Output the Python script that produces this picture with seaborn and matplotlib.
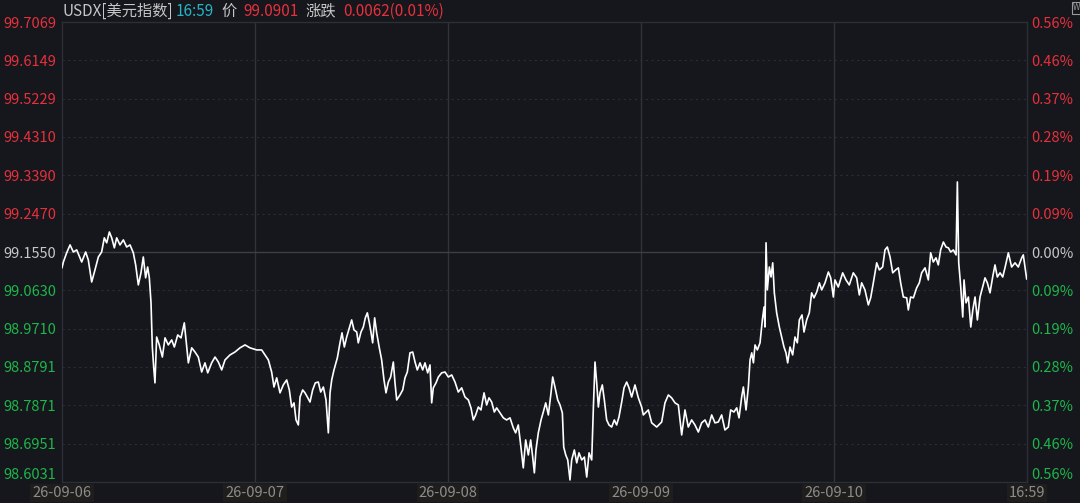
import pandas as pd
import seaborn as sns
import matplotlib.pyplot as plt

# hours since the start of 26-09-06
hours = [
    0.0, 0.17, 0.58, 1.0, 1.41, 1.83, 2.45, 2.94, 3.27, 3.69, 4.10, 4.52, 4.93, 5.26, 5.56, 5.89,
    6.18, 6.51, 6.80, 7.21, 7.63, 8.04, 8.46, 8.87, 9.16, 9.49, 9.82, 10.11, 10.40, 10.65, 10.86,
    11.07, 11.23, 11.40, 11.56, 11.77, 12.10, 12.48, 12.81, 13.22, 13.64, 13.97, 14.39, 14.80,
    15.21, 15.51, 15.71, 16.13, 16.54, 16.95, 17.37, 17.78, 18.12, 18.61, 19.03, 19.44, 19.86,
    20.27, 20.89, 21.51, 22.13, 22.76, 23.38,
    24.21, 24.83, 25.24, 25.66, 26.07, 26.36, 26.70, 27.11, 27.52, 27.94, 28.27, 28.56, 28.85,
    29.10, 29.39, 29.60, 29.93, 30.22, 30.51, 30.84, 31.17, 31.50, 31.87, 32.17, 32.50, 32.83,
    33.12, 33.33, 33.54, 33.82, 34.24, 34.57, 34.82, 35.11, 35.40, 35.73, 36.02, 36.31, 36.65,
    36.84, 37.18, 37.47, 37.72, 37.97, 38.22, 38.42, 38.63, 38.88, 39.13, 39.46, 39.75, 40.04,
    40.29, 40.58, 40.87, 41.20, 41.41, 41.62, 42.03, 42.37, 42.65, 42.94, 43.27, 43.61, 43.90,
    44.18, 44.52, 44.85, 45.14, 45.47, 45.76, 45.97, 46.17, 46.51, 46.80, 47.21, 47.63,
    48.04, 48.46, 48.87, 49.28, 49.70, 50.11, 50.53, 50.86, 51.15, 51.44, 51.77, 52.10, 52.48,
    52.81, 53.10, 53.43, 53.76, 54.05, 54.46, 54.88, 55.29, 55.71, 56.12, 56.41, 56.74, 57.07,
    57.36, 57.66, 57.99, 58.28, 58.53, 58.74, 58.94, 59.23, 59.57, 59.85, 60.15, 60.48, 60.81,
    61.02, 61.30, 61.64, 61.93, 62.22, 62.39, 62.64, 62.89, 63.17, 63.38, 63.71, 64.01, 64.29,
    64.63, 64.96, 65.25, 65.54, 65.87, 66.08, 66.28, 66.49, 66.70, 66.90, 67.19, 67.44, 67.73,
    68.02, 68.35, 68.68, 68.97, 69.26, 69.60, 69.89, 70.22, 70.51, 70.84, 71.25, 71.67,
    72.08, 72.29, 72.91, 73.33, 73.95, 74.57, 74.98, 75.40, 75.81, 76.23, 76.64, 77.06, 77.47,
    77.88, 78.30, 78.71, 79.13, 79.54, 79.96, 80.37, 80.79, 81.20, 81.61, 82.03, 82.44, 82.86,
    83.15, 83.56, 83.90, 84.19, 84.52, 84.73, 85.06, 85.35, 85.56, 85.77, 85.98, 86.18, 86.47,
    86.80, 87.09, 87.30, 87.42, 87.55, 87.71, 87.96, 88.17, 88.38, 88.58, 88.87, 89.20, 89.49,
    89.78, 90.03, 90.24, 90.53, 90.86, 91.15, 91.44, 91.69, 92.02, 92.27, 92.60, 92.93, 93.22,
    93.51, 93.85, 94.18, 94.47, 94.88, 95.30, 95.59, 95.92,
    96.12, 96.53, 97.08, 97.49, 97.90, 98.40, 98.82, 99.15, 99.44, 99.85, 100.27, 100.56, 100.89,
    101.31, 101.64, 102.05, 102.34, 102.63, 102.97, 103.30, 103.67, 104.00, 104.29, 104.62,
    105.04, 105.24, 105.53, 105.87, 106.28, 106.61, 106.90, 107.32, 107.73, 108.02, 108.35,
    108.68, 108.97, 109.26, 109.60, 109.93, 110.22, 110.51, 110.84, 111.18, 111.34, 111.51,
    111.76, 112.01, 112.17, 112.42, 112.71, 113.01, 113.26, 113.54, 113.83, 114.16, 114.49,
    114.78, 115.07, 115.40, 115.73, 116.02, 116.31, 116.65, 116.98, 117.26, 117.68, 118.09,
    118.51, 118.92, 119.34, 119.54, 119.75, 119.96,
]

usdx = [
    99.117, 99.131, 99.153, 99.172, 99.155, 99.160, 99.131, 99.155, 99.136, 99.083, 99.112, 99.143,
    99.155, 99.189, 99.177, 99.203, 99.189, 99.165, 99.189, 99.172, 99.184, 99.167, 99.172, 99.153,
    99.124, 99.076, 99.105, 99.143, 99.093, 99.119, 99.093, 99.033, 98.927, 98.879, 98.841, 98.951,
    98.932, 98.903, 98.949, 98.932, 98.944, 98.927, 98.956, 98.949, 98.985, 98.927, 98.889, 98.925,
    98.915, 98.903, 98.867, 98.889, 98.865, 98.889, 98.903, 98.891, 98.872, 98.896, 98.908, 98.915,
    98.925, 98.932, 98.925,
    98.920, 98.920, 98.908, 98.896, 98.867, 98.831, 98.853, 98.817, 98.836, 98.848, 98.824, 98.783,
    98.793, 98.752, 98.740, 98.807, 98.824, 98.817, 98.807, 98.795, 98.824, 98.841, 98.843, 98.819,
    98.831, 98.800, 98.721, 98.817, 98.848, 98.872, 98.901, 98.937, 98.961, 98.927, 98.951, 98.973,
    98.992, 98.968, 98.963, 98.937, 98.963, 98.975, 98.997, 99.009, 98.985, 98.963, 98.937, 98.997,
    98.961, 98.925, 98.896, 98.848, 98.817, 98.843, 98.855, 98.891, 98.841, 98.800, 98.812, 98.824,
    98.853, 98.867, 98.913, 98.915, 98.891, 98.872, 98.889, 98.872, 98.889, 98.865, 98.884, 98.793,
    98.829, 98.841, 98.855, 98.865, 98.867,
    98.855, 98.860, 98.843, 98.819, 98.829, 98.807, 98.800, 98.781, 98.752, 98.764, 98.783, 98.776,
    98.817, 98.788, 98.805, 98.795, 98.771, 98.781, 98.769, 98.757, 98.752, 98.757, 98.733, 98.721,
    98.740, 98.687, 98.637, 98.704, 98.668, 98.704, 98.663, 98.625, 98.680, 98.721, 98.752, 98.771,
    98.793, 98.764, 98.817, 98.855, 98.831, 98.800, 98.788, 98.769, 98.687, 98.668, 98.656, 98.608,
    98.656, 98.680, 98.649, 98.673, 98.656, 98.663, 98.615, 98.673, 98.656, 98.783, 98.891, 98.841,
    98.783, 98.817, 98.836, 98.800, 98.752, 98.740, 98.735, 98.752, 98.740, 98.759, 98.795, 98.829,
    98.843, 98.829, 98.807, 98.836, 98.805,
    98.783, 98.764, 98.776, 98.745, 98.735, 98.747, 98.793, 98.812, 98.805, 98.793, 98.788, 98.716,
    98.776, 98.735, 98.752, 98.740, 98.723, 98.745, 98.752, 98.735, 98.764, 98.745, 98.747, 98.764,
    98.728, 98.735, 98.776, 98.771, 98.781, 98.757, 98.807, 98.831, 98.776, 98.831, 98.896, 98.913,
    98.889, 98.932, 98.920, 98.937, 98.992, 99.023, 98.975, 99.177, 99.064, 99.119, 99.095, 99.129,
    99.057, 99.009, 98.975, 98.951, 98.927, 98.913, 98.889, 98.927, 98.908, 98.951, 98.937, 98.992,
    99.004, 98.963, 98.992, 99.009, 99.057, 99.045, 99.059, 99.081, 99.064, 99.081, 99.107, 99.093,
    99.047,
    99.088, 99.071, 99.105, 99.088, 99.076, 99.105, 99.093, 99.052, 99.081, 99.064, 99.028, 99.045,
    99.081, 99.129, 99.112, 99.119, 99.160, 99.167, 99.143, 99.105, 99.112, 99.117, 99.081, 99.047,
    99.045, 99.016, 99.047, 99.045, 99.069, 99.081, 99.105, 99.117, 99.088, 99.153, 99.131, 99.141,
    99.124, 99.160, 99.179, 99.167, 99.165, 99.155, 99.160, 99.148, 99.323, 99.129, 99.071, 98.999,
    99.088, 99.033, 99.047, 98.975, 99.016, 99.047, 98.992, 99.047, 99.071, 99.093, 99.081, 99.057,
    99.095, 99.124, 99.095, 99.105, 99.095, 99.117, 99.153, 99.119, 99.129, 99.119, 99.141, 99.148,
    99.119, 99.090,
]

price_ticks = ['99.7069', '99.6149', '99.5229', '99.4310', '99.3390', '99.2470', '99.1550',
               '99.0630', '98.9710', '98.8791', '98.7871', '98.6951', '98.6031']
pct_ticks = ['0.56%', '0.46%', '0.37%', '0.28%', '0.19%', '0.09%', '0.00%',
             '0.09%', '0.19%', '0.28%', '0.37%', '0.46%', '0.56%']
day_hours = [0, 24, 48, 72, 96, 120]
day_labels = ['26-09-06', '26-09-07', '26-09-08', '26-09-09', '26-09-10', '16:59']
prev_close = 99.1550

BG = '#15171c'
RED = '#e8303c'
GREEN = '#1db64b'
GRAY = '#c6c6c6'
FRAME = '#2c2f36'

sns.set_theme(style='dark')
plt.rcParams['font.family'] = ['Noto Sans CJK SC', 'DejaVu Sans']

fig = plt.figure(figsize=(10.8, 5.03), dpi=100, facecolor=BG)
ax = fig.add_axes([62 / 1080, 21 / 503, 965 / 1080, 460 / 503])
ax.set_facecolor(BG)

df = pd.DataFrame({'hours': hours, 'usdx': usdx})
sns.lineplot(data=df, x='hours', y='usdx', ax=ax, color='white', linewidth=1.2, zorder=5)

tick_vals = [float(t) for t in price_ticks]
ax.set_xlim(day_hours[0], day_hours[-1])
ax.set_ylim(tick_vals[-1], tick_vals[0])

# grid: solid day separators, dotted price levels, solid prev close
for h in day_hours[1:-1]:
    ax.axvline(h, color='#30333a', linewidth=1.0, zorder=1)
for v in tick_vals[1:-1]:
    if v == prev_close:
        ax.axhline(v, color='#3c3f46', linewidth=1.0, zorder=1)
    else:
        ax.axhline(v, color='#2a2d33', linewidth=0.8, linestyle=(0, (2, 3)), zorder=1)

for s in ax.spines.values():
    s.set_color(FRAME)
    s.set_linewidth(1.0)

ax.set_xlabel('')
ax.set_ylabel('')
ax.set_xticks(day_hours)
ax.set_xticklabels(day_labels, fontsize=10.5, color='#8c8c8c')
for lab in ax.get_xticklabels():
    lab.set_bbox(dict(facecolor='#1f1e1d', edgecolor='none', pad=1.5))
ax.set_yticks(tick_vals)
ax.set_yticklabels(price_ticks, fontsize=10.5)
ax.tick_params(axis='both', length=0)
ax.tick_params(axis='x', pad=3)
ax.tick_params(axis='y', pad=4)

ax2 = ax.twinx()
ax2.set_ylim(ax.get_ylim())
ax2.set_yticks(tick_vals)
ax2.set_yticklabels(pct_ticks, fontsize=10.5)
ax2.tick_params(axis='y', length=0, pad=3)
ax2.grid(False)
for s in ax2.spines.values():
    s.set_visible(False)

for labs in (ax.get_yticklabels(), ax2.get_yticklabels()):
    for lab, v in zip(labs, tick_vals):
        if v > prev_close:
            lab.set_color(RED)
        elif v < prev_close:
            lab.set_color(GREEN)
        else:
            lab.set_color(GRAY)
    labs[-1].set_verticalalignment('bottom')

# header line
hy = 1 - 11 / 503
fig.text(62 / 1080, hy, 'USDX[美元指数]', color=GRAY, fontsize=11, va='center')
fig.text(176 / 1080, hy, '16:59', color='#27b3c6', fontsize=11, va='center')
fig.text(221 / 1080, hy, '价', color=GRAY, fontsize=11, va='center')
fig.text(243 / 1080, hy, '99.0901', color=RED, fontsize=11, va='center')
fig.text(305 / 1080, hy, '涨跌', color=GRAY, fontsize=11, va='center')
fig.text(343 / 1080, hy, '0.0062(0.01%)', color=RED, fontsize=11, va='center')
fig.text(1073 / 1080, 1 - 8 / 503, 'W', color='#9a9a9a', fontsize=6, va='center', ha='left',
         bbox=dict(facecolor=BG, edgecolor='#9a9a9a', pad=0.8, linewidth=0.8))

fig.savefig('out.png', dpi=100, facecolor=BG)
